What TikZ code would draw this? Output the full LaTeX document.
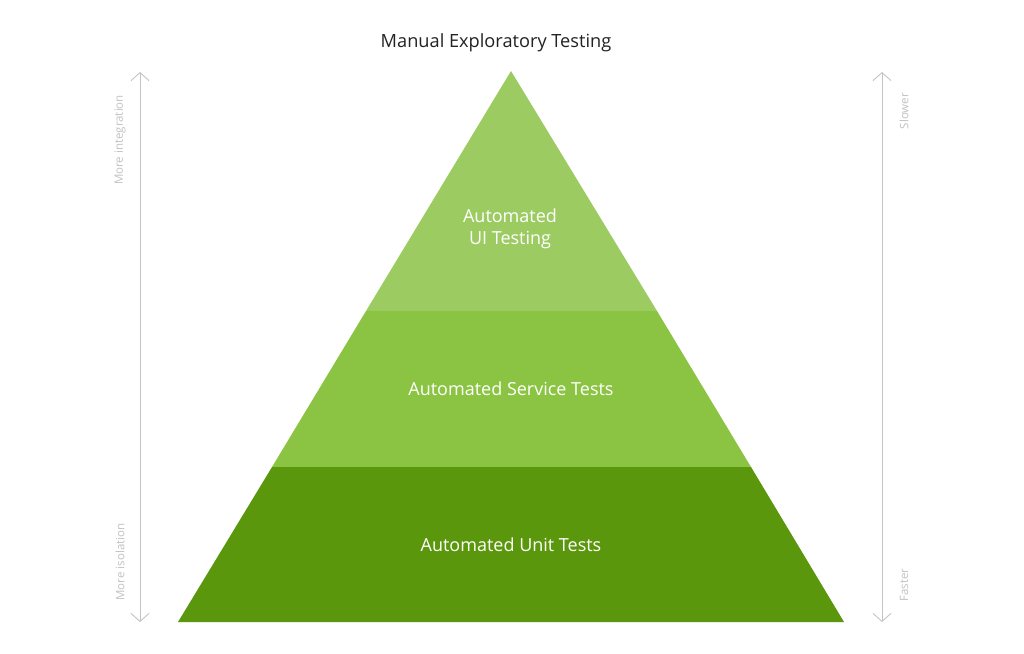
\documentclass[tikz,border=0pt]{standalone}
\usepackage{fontspec}
\setmainfont{Open Sans}
\usetikzlibrary{arrows.meta}
\definecolor{topg}{HTML}{9CCB62}
\definecolor{midg}{HTML}{8BC442}
\definecolor{botg}{HTML}{5B970C}
\definecolor{axisg}{HTML}{C4C4C4}
\definecolor{labg}{HTML}{C2C2C2}
\definecolor{titlec}{HTML}{222222}
\tikzset{
  band/.style={draw=none},
  tierlabel/.style={text=white, font=\fontsize{18}{22}\selectfont, align=center, inner sep=0pt},
  sidelabel/.style={text=labg, font=\fontsize{11.5}{13}\selectfont, rotate=90, inner sep=0pt},
  axis/.style={draw=axisg, line width=0.9pt, {Straight Barb[length=8pt,width=18pt]}-{Straight Barb[length=8pt,width=18pt]}}
}
\begin{document}
\begin{tikzpicture}[x=1pt,y=-1pt]
\useasboundingbox[fill=white] (0,0) rectangle (1024,653);
% pyramid bands
\fill[band, topg] (511,71) -- (657,311) -- (366,311) -- cycle;
\fill[band, midg] (366,311) -- (657,311) -- (751,467) -- (272,467) -- cycle;
\fill[band, botg] (272,467) -- (751,467) -- (844,622) -- (178,622) -- cycle;
% title
\node[text=titlec, font=\fontsize{18.2}{22}\selectfont, inner sep=0pt] (title) at (496,42.5) {Manual Exploratory Testing};
% tier labels
\node[tierlabel] (ui) at (510,229) {Automated\\UI Testing};
\node[tierlabel] (svc) at (511,389) {Automated Service Tests};
\node[tierlabel] (unit) at (511,545) {Automated Unit Tests};
% axes
\coordinate (ltop) at (140,72);
\coordinate (lbot) at (140,622);
\coordinate (rtop) at (882,72);
\coordinate (rbot) at (882,622);
\draw[axis] (lbot) -- (ltop);
\draw[axis] (rbot) -- (rtop);
\node[sidelabel] (mi) at (120,140) {More integration};
\node[sidelabel] (mis) at (120,562) {More isolation};
\node[sidelabel] (slow) at (904,111) {Slower};
\node[sidelabel] (fast) at (904,585) {Faster};
\end{tikzpicture}
\end{document}
